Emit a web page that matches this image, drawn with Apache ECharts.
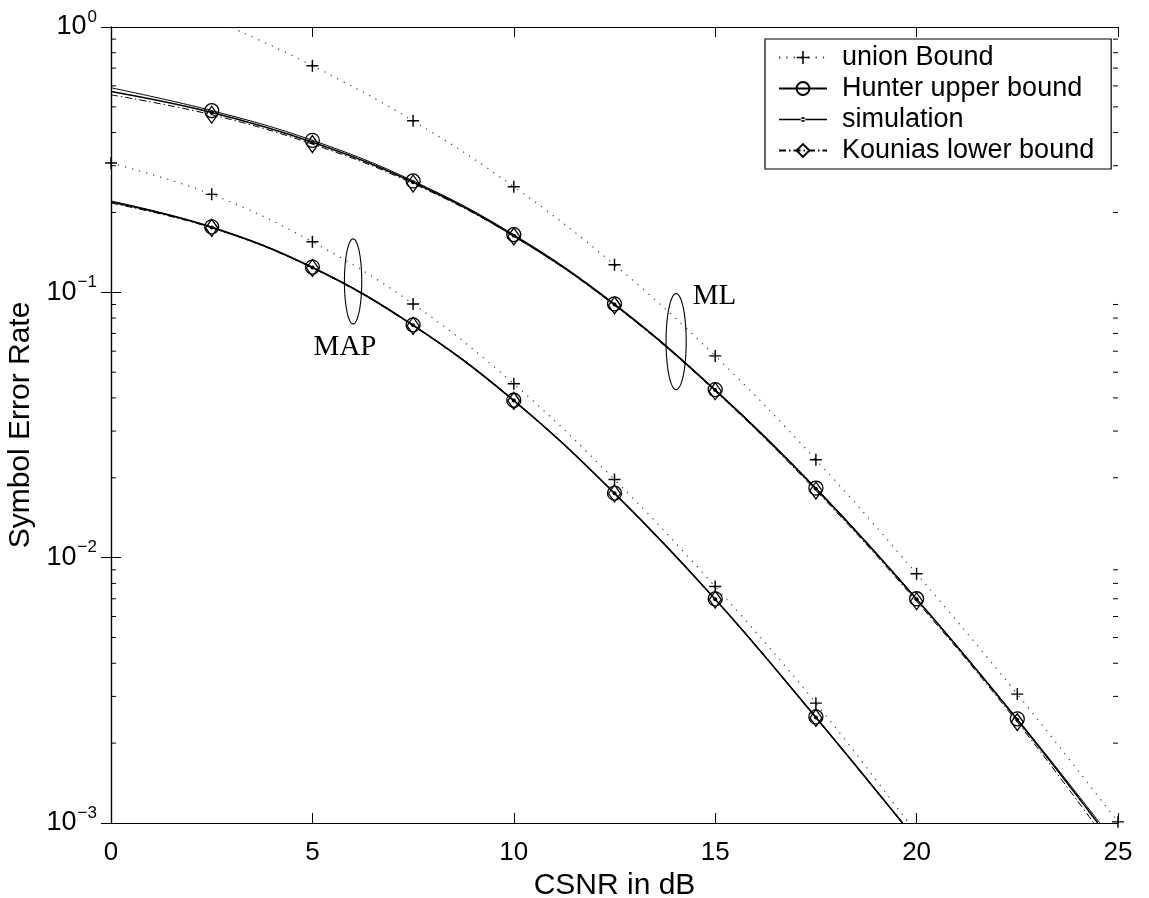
<!DOCTYPE html>
<html>
<head>
<meta charset="utf-8">
<script src="https://cdn.jsdelivr.net/npm/echarts@6/dist/echarts.min.js"></script>
<style>
html,body{margin:0;padding:0;background:#fff;}
#chart{width:1149px;height:898px;}
</style>
</head>
<body>
<div id="chart"></div>
<script>
// ---------- data ----------
const xTicks = [0, 5, 10, 15, 20, 25];
const yTickExponents = [-3, -2, -1, 0];

// ML receiver
const mlUnionX = [3.0, 5, 7.5, 10, 12.5, 15, 17.5, 20, 22.5, 25];
const mlUnionY = [0.995, 0.715, 0.443, 0.250, 0.127, 0.0576, 0.0234, 0.0087, 0.00306, 0.00101];
const mlX = [0, 2.5, 5, 7.5, 10, 12.5, 15, 17.5, 20, 22.5];
const mlHunterY  = [0.590, 0.484, 0.374, 0.263, 0.165, 0.0905, 0.0430, 0.0183, 0.00700, 0.00247];
const mlSimY     = [0.571, 0.476, 0.368, 0.260, 0.1634, 0.0899, 0.0428, 0.0182, 0.00697, 0.00245];
const mlKouniasY = [0.555, 0.467, 0.362, 0.257, 0.1625, 0.0893, 0.0424, 0.0179, 0.00685, 0.00240];
const mlEndX = {hunter: 24.55, sim: 24.5, kounias: 24.4};

// MAP receiver
const mapUnionX = [0, 2.5, 5, 7.5, 10, 12.5, 15, 17.5, 19.8];
const mapUnionY = [0.307, 0.234, 0.155, 0.0904, 0.0452, 0.0197, 0.00778, 0.00283, 0.001];
const mapX = [0, 2.5, 5, 7.5, 10, 12.5, 15, 17.5];
const mapHunterY  = [0.221, 0.1765, 0.1245, 0.0754, 0.0392, 0.0175, 0.00699, 0.00251];
const mapSimY     = [0.219, 0.1757, 0.1240, 0.0751, 0.0391, 0.01748, 0.00697, 0.00250];
const mapKouniasY = [0.217, 0.1750, 0.1235, 0.0748, 0.0390, 0.01745, 0.00695, 0.00249];
const mapEndX = {hunter: 19.66, sim: 19.65, kounias: 19.64};
const floorValue = 0.001;

// annotations: [x centre, y centre, y top, y bottom, half width in x units]
const ellipseNotes = [[6.01, 0.1094, 0.159, 0.076, 0.215], [14.03, 0.0652, 0.0989, 0.0430, 0.25]];
const textNotes = ['MAP', 'ML'];
const textNoteX = [5.81, 14.98];
const textNoteY = [0.0619, 0.0964];

const legendNames = ['union Bound', 'Hunter upper bound', 'simulation', 'Kounias lower bound'];

// ---------- helpers ----------
const FONT = '"Liberation Sans", Arial, Helvetica, sans-serif';
const SERIF = '"Liberation Serif", "Times New Roman", serif';

function build(xs, ys, firstNoSymbol, endX) {
  const out = xs.map((x, i) => {
    const item = {value: [x, ys[i]]};
    if (firstNoSymbol && i === 0) item.symbol = 'none';
    return item;
  });
  if (endX !== undefined) out.push({value: [endX, floorValue], symbol: 'none'});
  return out;
}

const plusPath = 'path://M4.4,0h1.2v4.4h4.4v1.2h-4.4v4.4h-1.2v-4.4h-4.4v-1.2h4.4z';
const simLegendIcon = 'path://M0,7.2L48,7.2L48,8.8L0,8.8Z M21.6,8A2.4,2.4,0,1,0,26.4,8A2.4,2.4,0,1,0,21.6,8Z';

function unionSeries(data) {
  return {
    name: legendNames[0], type: 'line', smooth: 0.4, data: data,
    symbol: plusPath, symbolSize: 12,
    itemStyle: {color: '#000'},
    lineStyle: {color: '#444', width: 1.2, type: [1.3, 6]},
    z: 2
  };
}
function hunterSeries(data) {
  return {
    name: legendNames[1], type: 'line', smooth: 0.4, data: data,
    symbol: 'circle', symbolSize: 14,
    itemStyle: {color: 'rgba(0,0,0,0)', borderColor: '#000', borderWidth: 1.3},
    lineStyle: {color: '#000', width: 1},
    z: 3
  };
}
function simSeries(data) {
  return {
    name: legendNames[2], type: 'line', smooth: 0.4, data: data,
    symbol: 'circle', symbolSize: 4,
    itemStyle: {color: '#000'},
    lineStyle: {color: '#000', width: 1.6},
    z: 5
  };
}
function kouniasSeries(data) {
  return {
    name: legendNames[3], type: 'line', smooth: 0.4, data: data,
    symbol: 'diamond', symbolSize: [12, 17],
    itemStyle: {color: 'rgba(0,0,0,0)', borderColor: '#000', borderWidth: 1.3},
    lineStyle: {color: '#000', width: 1, type: [7, 3, 1.5, 3]},
    z: 4
  };
}

// minor ticks of the log axis (2..9 x 10^k)
const minorTickValues = [];
for (let e = -3; e < 0; e++) {
  for (let m = 2; m <= 9; m++) minorTickValues.push(m * Math.pow(10, e));
}

const chart = echarts.init(document.getElementById('chart'), null, {renderer: 'canvas'});

const axisLineStyle = {show: true, lineStyle: {color: '#000', width: 1.2}};

const option = {
  backgroundColor: '#fff',
  animation: false,
  grid: {left: 111, right: 31, top: 27, bottom: 75, containLabel: false, outerBoundsMode: 'none'},
  legend: {
    data: [
      {name: legendNames[0]},
      {name: legendNames[1]},
      {name: legendNames[2], icon: simLegendIcon},
      {name: legendNames[3]}
    ],
    orient: 'vertical',
    left: 765, top: 39,
    padding: [5, 17, 5, 13],
    itemWidth: 48, itemHeight: 16, itemGap: 4,
    backgroundColor: '#fff',
    borderColor: '#000', borderWidth: 1.2, borderRadius: 0,
    selectedMode: false,
    textStyle: {fontFamily: FONT, fontSize: 27, lineHeight: 27, color: '#000', padding: [0, 0, 0, 10]}
  },
  xAxis: [{
    type: 'value', min: 0, max: 25, interval: 5, position: 'bottom',
    name: 'CSNR in dB', nameLocation: 'middle', nameGap: 36,
    nameTextStyle: {fontFamily: FONT, fontSize: 30, color: '#000'},
    axisLine: axisLineStyle,
    axisTick: {show: true, inside: true, length: 10, lineStyle: {color: '#000', width: 1}},
    axisLabel: {fontFamily: FONT, fontSize: 26, color: '#000', margin: 17,
      formatter: v => xTicks.indexOf(v) >= 0 ? String(v) : ''},
    splitLine: {show: false}
  }, {
    type: 'value', min: 0, max: 25, interval: 5, position: 'top',
    axisLine: axisLineStyle,
    axisTick: {show: true, inside: true, length: 10, lineStyle: {color: '#000', width: 1}},
    axisLabel: {show: false}, splitLine: {show: false}
  }],
  yAxis: [{
    type: 'log', logBase: 10, min: 0.001, max: 1, position: 'left',
    name: 'Symbol Error Rate', nameLocation: 'middle', nameGap: 60,
    nameTextStyle: {fontFamily: FONT, fontSize: 30, color: '#000'},
    axisLine: axisLineStyle,
    axisTick: {show: true, inside: true, length: 10, lineStyle: {color: '#000', width: 1}},
    axisLabel: {
      margin: 14,
      formatter: v => {
        const e = Math.round(Math.log10(v));
        if (yTickExponents.indexOf(e) < 0) return '';
        return '{b|10}{s|' + (e === 0 ? '0' : '\u2212' + (-e)) + '}';
      },
      rich: {
        b: {fontFamily: FONT, fontSize: 27, color: '#000'},
        s: {fontFamily: FONT, fontSize: 17, color: '#000', padding: [0, 0, 20, 1]}
      }
    },
    splitLine: {show: false}
  }, {
    type: 'log', logBase: 10, min: 0.001, max: 1, position: 'right',
    axisLine: axisLineStyle,
    axisTick: {show: true, inside: true, length: 10, lineStyle: {color: '#000', width: 1}},
    axisLabel: {show: false}, splitLine: {show: false}
  }],
  series: [
    unionSeries(build(mlUnionX, mlUnionY, true)),
    unionSeries(build(mapUnionX, mapUnionY, false).map((d, i, a) => (i === a.length - 1 ? Object.assign(d, {symbol: 'none'}) : d))),
    kouniasSeries(build(mlX, mlKouniasY, true, mlEndX.kounias)),
    kouniasSeries(build(mapX, mapKouniasY, true, mapEndX.kounias)),
    hunterSeries(build(mlX, mlHunterY, true, mlEndX.hunter)),
    hunterSeries(build(mapX, mapHunterY, true, mapEndX.hunter)),
    simSeries(build(mlX, mlSimY, true, mlEndX.sim)),
    simSeries(build(mapX, mapSimY, true, mapEndX.sim)),
    {
      // minor log ticks on left and right frames
      type: 'custom', name: 'minorTicks', silent: true, z: 6,
      data: minorTickValues.map(v => [0, v]),
      renderItem: function (params, api) {
        const v = api.value(1);
        const l = api.coord([0, v]);
        const r = api.coord([25, v]);
        return {
          type: 'group', children: [
            {type: 'line', shape: {x1: l[0], y1: l[1], x2: l[0] + 5, y2: l[1]}, style: {stroke: '#000', lineWidth: 1}},
            {type: 'line', shape: {x1: r[0], y1: r[1], x2: r[0] - 5, y2: r[1]}, style: {stroke: '#000', lineWidth: 1}}
          ]
        };
      }
    },
    {
      // ellipses grouping the curves
      type: 'custom', name: 'ellipses', silent: true, z: 6,
      data: ellipseNotes,
      renderItem: function (params, api) {
        const x = api.value(0), yc = api.value(1), yt = api.value(2), yb = api.value(3), dx = api.value(4);
        const t = api.coord([x, yt]);
        const b = api.coord([x, yb]);
        const r = api.coord([x + dx, yc]);
        const cx = t[0], cy = (t[1] + b[1]) / 2;
        const ry = (b[1] - t[1]) / 2, rx = r[0] - t[0];
        const pts = [];
        for (let k = 0; k < 96; k++) {
          const a = k / 96 * Math.PI * 2;
          pts.push([cx + rx * Math.cos(a), cy + ry * Math.sin(a)]);
        }
        return {type: 'polygon', shape: {points: pts}, style: {fill: 'none', stroke: '#000', lineWidth: 1.1}};
      }
    },
    {
      type: 'custom', name: 'notes', silent: true, z: 6,
      data: textNoteX.map((x, i) => [x, textNoteY[i]]),
      renderItem: function (params, api) {
        const p = api.coord([api.value(0), api.value(1)]);
        return {
          type: 'text', x: p[0], y: p[1],
          style: {text: textNotes[params.dataIndex], fill: '#000', font: '29px ' + SERIF,
            textAlign: 'center', textVerticalAlign: 'middle'}
        };
      }
    }
  ]
};

chart.setOption(option);
</script>
</body>
</html>
